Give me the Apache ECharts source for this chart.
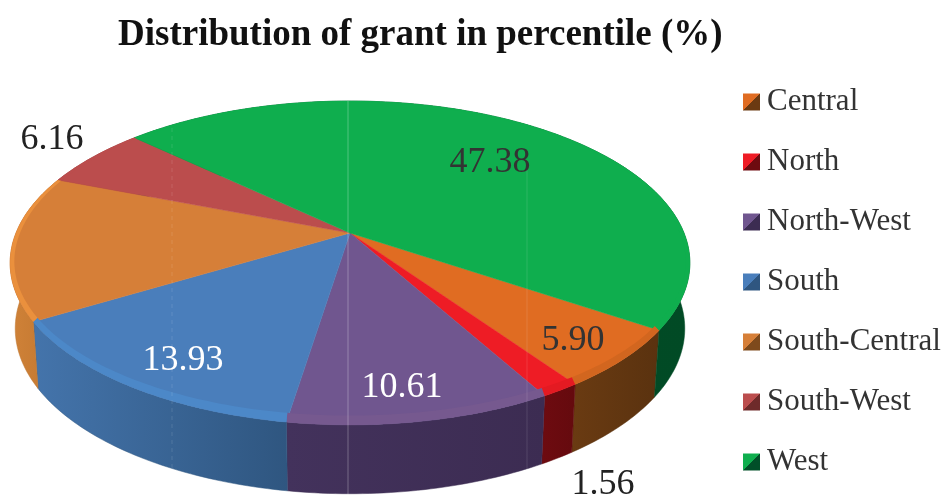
<!DOCTYPE html>
<html><head><meta charset="utf-8">
<style>html,body{margin:0;padding:0;background:#fff}#c{width:942px;height:499px}</style>
<script src="https://cdn.jsdelivr.net/npm/echarts@6/dist/echarts.min.js"></script>
</head><body><div id="c"></div>
<script>
// Data, in the reference's legend order
const categories = ['Central','North','North-West','South','South-Central','South-West','West'];
const grantShare = [5.90, 1.56, 10.61, 13.93, 14.46, 6.16, 47.38];
const shownLabels = ['5.90','1.56','10.61','13.93','','6.16','47.38'];

// Styles
const topColors   = ['#e06c22','#ee1c25','#70568f','#4a7ebb','#d67f38','#bb4d4d','#0fae4e'];
const bevelColors = ['#d2661f','#e41a22','#76598f','#4c88c8','#ea903d','#bb4d4d','#0fae4e'];
const rimLeft     = ['#6a3b12','#6e0b10','#43325c','#4474ab','#d08238','#8a3535','#014f28'];
const rimRight    = ['#5a320f','#650a0e','#3c2c52','#2f5680','#bf7630','#8a3535','#014a25'];
const labelColors = ['#333','#222','#fff','#fff','#222','#222','#333'];
const labelSpots  = [[573,341],[603,485],[402,388],[183,361],[0,0],[52,140],[490,163]];
const legendDark  = ['#6b3a12','#6e0b10','#3c2c52','#2f5680','#7e4a1c','#6e2a2a','#014f28'];

// Pie geometry (perspective projection of a flat disc)
const apex = [350,233], RX = 334, RY = 156.4, P = 0.185;
const depth = 65, bottomX = 0.985, bottomY = 1.02;
const total = grantShare.reduce((a,b)=>a+b,0);

// Central starts where West ends, clockwise from 12 o'clock.
const START_ANGLE = 123.9;
function sliceRange(i){
  let s = START_ANGLE;
  for(let k=0;k<i;k++) s += grantShare[k]/total*360;
  return [s, s + grantShare[i]/total*360];
}
function project(deg, r){
  const t = deg*Math.PI/180, u = r*Math.sin(t), v = -r*Math.cos(t), w = 1 - P*v;
  return [apex[0] + RX*u/w, apex[1] + RY*v/w];
}
function projectInner(deg){
  const front = -Math.cos(deg*Math.PI/180) > 0;
  return [project(deg,0.988)[0], project(deg, front ? 0.96 : 0.99)[1]];
}
function projectBottom(deg){
  const p = project(deg,1);
  return [apex[0] + (p[0]-apex[0])*bottomX, apex[1] + (p[1]-apex[1])*bottomY + depth];
}
function arc(a0,a1,fn){
  const n = Math.max(2, Math.ceil(Math.abs(a1-a0))), out = [];
  for(let j=0;j<=n;j++) out.push(fn(a0+(a1-a0)*j/n));
  return out;
}
function renderSlice(i){
  return function(params, api){
    const [a0,a1] = sliceRange(i);
    const outer = arc(a0,a1,d=>project(d,1));
    const inner = arc(a0,a1,projectInner);
    const low = arc(a0,a1,projectBottom);
    const children = [
      {type:'polygon', z2:1, shape:{points:outer.concat(low.slice().reverse())},
       style:{fill:new echarts.graphic.LinearGradient(0,0,1,0,[{offset:0,color:rimLeft[i]},{offset:1,color:rimRight[i]}]),stroke:rimRight[i],lineWidth:0.5}},
      {type:'polygon', z2:10, shape:{points:[apex].concat(outer)},
       style:{fill:topColors[i],stroke:topColors[i],lineWidth:0.5}},
      {type:'polygon', z2:11, shape:{points:outer.concat(inner.slice().reverse())},
       style:{fill:bevelColors[i]}}
    ];
    if(shownLabels[i]){
      children.push({type:'text', z2:30, x:labelSpots[i][0], y:labelSpots[i][1],
        style:{text:shownLabels[i],fill:labelColors[i],font:'36px "Liberation Serif"',textAlign:'center',textVerticalAlign:'middle'}});
    }
    return {type:'group',children};
  };
}
function faintLine(x,y1,y2,op,dash){
  return {type:'line',z:20,silent:true,shape:{x1:x,y1:y1,x2:x,y2:y2},
    style:{stroke:'#fff',lineWidth:1,opacity:op,lineDash:dash||null}};
}
const chart = echarts.init(document.getElementById('c'));
chart.setOption({
  animation:false,
  backgroundColor:'#fff',
  title:{text:'Distribution of grant in percentile (%)',left:113,top:12,
    textStyle:{fontFamily:'Liberation Serif',fontWeight:'bold',fontSize:37,color:'#111'}},
  legend:{orient:'vertical',left:743,top:85,padding:0,itemWidth:17,itemHeight:17,itemGap:26,icon:'rect',
    textStyle:{fontFamily:'Liberation Serif',fontSize:31,color:'#333',padding:[0,0,0,2],lineHeight:34},
    data:categories.map((n,i)=>({name:n,itemStyle:{color:new echarts.graphic.LinearGradient(0,0,1,1,[
      {offset:0,color:topColors[i]},{offset:0.5,color:topColors[i]},{offset:0.5,color:legendDark[i]},{offset:1,color:legendDark[i]}])}}))},
  graphic:[faintLine(348,101,497,0.28),faintLine(172,128,470,0.12,[4,4]),faintLine(527,170,480,0.12)],
  series:categories.map((n,i)=>({
    type:'custom',name:n,coordinateSystem:'none',data:[grantShare[i]],
    itemStyle:{color:topColors[i]},renderItem:renderSlice(i)
  }))
});
</script></body></html>
